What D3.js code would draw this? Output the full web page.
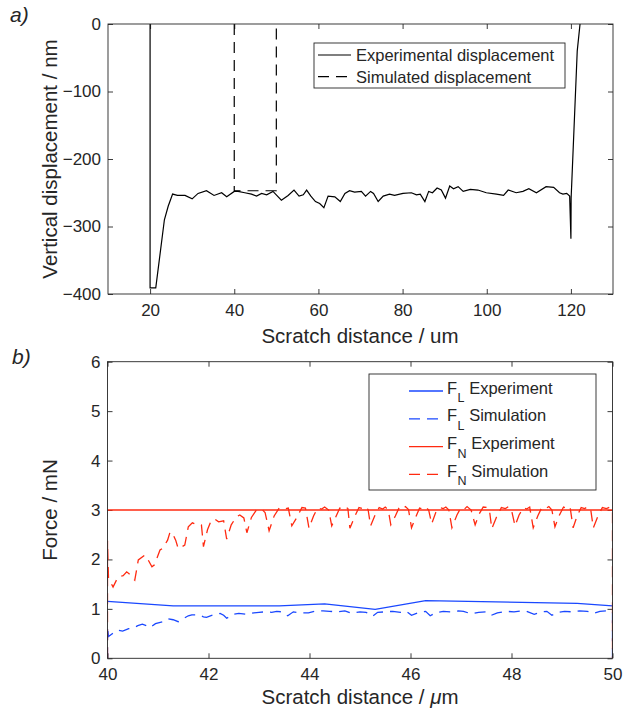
<!DOCTYPE html>
<html><head><meta charset="utf-8">
<script src="https://cdn.jsdelivr.net/npm/d3@7"></script>
<style>
body{margin:0;background:#fff}
text{font-family:"Liberation Sans",Arial,Helvetica,sans-serif;fill:#262626}
</style>
</head><body>
<svg id="c" width="639" height="715"></svg>
<script>
// ---------- DATA ----------
const xTicksA = [20, 40, 60, 80, 100, 120];
const yTicksA = [0, -100, -200, -300, -400];
const xTicksB = [40, 42, 44, 46, 48, 50];
const yTicksB = [0, 1, 2, 3, 4, 5, 6];

const legendA = ["Experimental displacement", "Simulated displacement"];
const legendB = [["F","L"," Experiment"],["F","L"," Simulation"],["F","N"," Experiment"],["F","N"," Simulation"]];

const expDisp = [[20,0],[20,-140],[20,-310],[20,-391],[21.35,-391],[23.4,-290],[24.3,-270],[25.35,-252],[26.5,-254],[28.3,-254],[30,-259],[31.4,-251],[33.4,-247],[35.2,-254],[37,-250],[38.2,-256],[40,-248],[40.9,-248],[42.5,-250],[44.1,-252],[45.3,-255],[46.5,-251],[47.7,-253],[49.2,-248],[51.2,-261],[52.8,-254],[54.2,-246],[55.4,-255],[56.4,-253],[57.2,-246],[58.2,-255],[59.3,-263],[60.3,-266],[61.3,-272],[62.3,-255],[63.9,-256],[65.2,-263],[66.3,-251],[67.4,-247],[68.6,-249],[70.2,-248],[71.2,-255],[72.4,-248],[73.1,-251],[74.2,-263],[75.4,-255],[76.9,-252],[78.1,-254],[80.1,-251],[82.1,-250],[83.3,-253],[84.2,-252],[85.3,-263],[86.2,-248],[87.1,-250],[88.2,-243],[89.2,-246],[90.2,-258],[91.2,-240],[92.1,-244],[93.2,-241],[94.4,-248],[96.1,-245],[97.9,-246],[99.9,-250],[102.3,-252],[104,-254],[105.1,-246],[107,-250],[108.6,-248],[110,-244],[111.8,-250],[114.1,-241],[115.9,-242],[117.3,-250],[118.1,-252],[119,-251],[119.7,-255],[120,-318],[120.05,-258],[121.5,-40],[122.5,20]];

const simDisp = [[40,0],[40,-247],[50,-247],[50,0]];

const flExp = [[40,1.15],[41.3,1.06],[43.4,1.06],[44.3,1.1],[45.3,0.99],[46.3,1.165],[49.3,1.11],[50,1.06]];

const flSim = [[40,0],[40,0.64],[40.02,0.44],[40.1,0.5],[40.21,0.57],[40.3,0.55],[40.42,0.6],[40.51,0.61],[40.6,0.66],[40.69,0.69],[40.77,0.66],[40.84,0.62],[40.95,0.7],[41.1,0.74],[41.2,0.8],[41.3,0.78],[41.4,0.74],[41.5,0.8],[41.6,0.86],[41.67,0.88],[41.8,0.88],[41.9,0.84],[41.96,0.83],[42.1,0.88],[42.23,0.91],[42.3,0.87],[42.36,0.81],[42.49,0.89],[42.6,0.91],[42.76,0.89],[42.9,0.92],[43.0,0.93],[43.12,0.94],[43.25,0.93],[43.35,0.95],[43.45,0.94],[43.57,0.86],[43.68,0.94],[43.8,0.92],[43.98,0.92],[44.1,0.95],[44.27,0.96],[44.4,0.95],[44.54,0.94],[44.7,0.96],[44.84,0.91],[45.0,0.94],[45.12,0.93],[45.25,0.85],[45.35,0.93],[45.5,0.94],[45.65,0.95],[45.8,0.93],[45.92,0.95],[46.02,0.87],[46.15,0.92],[46.3,0.95],[46.39,0.86],[46.5,0.92],[46.65,0.95],[46.8,0.94],[46.95,0.96],[47.05,0.95],[47.2,0.9],[47.35,0.93],[47.5,0.94],[47.6,0.87],[47.72,0.92],[47.9,0.95],[48.05,0.94],[48.2,0.96],[48.3,0.95],[48.45,0.89],[48.6,0.94],[48.7,0.95],[48.8,0.87],[48.92,0.93],[49.05,0.95],[49.2,0.94],[49.35,0.96],[49.5,0.95],[49.62,0.91],[49.75,0.95],[49.9,0.96],[49.97,0.95],[50,0.94],[50,0]];

const fnExp = [[40,3],[50,3]];

const fnSim = [[40,0],[40,2.38],[40.02,1.62],[40.11,1.44],[40.21,1.65],[40.31,1.67],[40.38,1.75],[40.44,1.70],[40.5,1.62],[40.54,1.58],[40.61,1.99],[40.74,2.09],[40.8,2.0],[40.88,1.85],[40.93,1.89],[41.04,2.19],[41.1,2.23],[41.19,2.39],[41.24,2.56],[41.3,2.5],[41.35,2.39],[41.4,2.22],[41.48,2.26],[41.53,2.29],[41.6,2.66],[41.68,2.74],[41.75,2.71],[41.86,2.7],[41.9,2.26],[41.98,2.6],[42.05,2.78],[42.12,2.82],[42.2,2.76],[42.3,2.78],[42.36,2.41],[42.45,2.7],[42.55,2.86],[42.62,2.9],[42.7,2.84],[42.76,2.54],[42.85,2.85],[42.95,3.0],[43.05,3.02],[43.12,2.95],[43.2,2.58],[43.3,2.88],[43.4,3.04],[43.5,3.02],[43.58,3.04],[43.65,2.68],[43.75,2.85],[43.85,3.05],[43.92,3.04],[43.99,2.63],[44.08,2.88],[44.16,3.04],[44.24,3.02],[44.3,3.06],[44.38,3.0],[44.44,2.68],[44.52,2.86],[44.6,3.04],[44.66,3.02],[44.72,3.06],[44.76,3.03],[44.8,2.63],[44.9,2.88],[44.98,3.05],[45.05,3.03],[45.1,3.07],[45.16,3.01],[45.21,2.68],[45.3,2.9],[45.38,3.05],[45.45,3.02],[45.5,3.06],[45.56,3.0],[45.61,2.7],[45.7,2.88],[45.78,3.06],[45.85,3.03],[45.9,3.07],[45.96,3.01],[46.02,2.64],[46.1,2.85],[46.18,3.04],[46.25,3.02],[46.3,3.06],[46.36,3.0],[46.42,2.72],[46.5,2.95],[46.58,3.05],[46.65,3.03],[46.7,3.06],[46.76,3.0],[46.82,2.64],[46.92,2.9],[47.0,3.05],[47.07,3.02],[47.12,3.07],[47.2,3.0],[47.28,2.7],[47.36,2.92],[47.44,3.06],[47.52,3.05],[47.56,3.02],[47.61,2.62],[47.7,2.85],[47.8,3.05],[47.88,3.03],[47.94,3.07],[48.0,3.0],[48.07,2.68],[48.15,2.9],[48.24,3.05],[48.3,3.02],[48.36,3.06],[48.43,2.64],[48.52,2.88],[48.6,3.05],[48.68,3.03],[48.74,3.07],[48.8,3.0],[48.86,2.66],[48.95,2.9],[49.03,3.06],[49.1,3.03],[49.16,3.06],[49.22,2.64],[49.3,2.88],[49.38,3.05],[49.45,3.03],[49.52,3.07],[49.57,3.0],[49.62,2.64],[49.72,2.9],[49.8,3.05],[49.88,3.03],[49.95,3.06],[50,3.0],[50,0]];

// ---------- STYLE ----------
const AX = "#262626";
const BLUE = "#1a48ff";
const RED = "#ff2a10";
const DASH = "11,7";
const TICKFS = 17, LABFS = 20.5, LEGFS = 16.5;

const svg = d3.select("#c");

function panel(xDom, yDom, rect, xTicks, yTicks, id) {
  const x = d3.scaleLinear().domain(xDom).range([rect.l, rect.r]);
  const y = d3.scaleLinear().domain(yDom).range([rect.b, rect.t]);
  const g = svg.append("g");
  g.append("clipPath").attr("id", id).append("rect")
    .attr("x", rect.l).attr("y", rect.t).attr("width", rect.r - rect.l).attr("height", rect.b - rect.t);
  const ax = (sel, fs) => {
    sel.select(".domain").remove();
    sel.selectAll(".tick line").attr("stroke", AX).attr("stroke-width", 0.9);
    sel.selectAll("text").style("font-size", fs + "px").attr("fill", AX)
      .style("font-family", '"Liberation Sans",Arial,sans-serif');
  };
  g.append("g").attr("transform", `translate(0,${rect.b})`)
    .call(d3.axisBottom(x).tickValues(xTicks).tickSize(-5).tickPadding(10).tickFormat(d3.format("d")))
    .call(s => ax(s, TICKFS));
  g.append("g").attr("transform", `translate(0,${rect.t})`)
    .call(d3.axisTop(x).tickValues(xTicks).tickSize(-5).tickFormat(""))
    .call(s => ax(s, TICKFS));
  g.append("g").attr("transform", `translate(${rect.l},0)`)
    .call(d3.axisLeft(y).tickValues(yTicks).tickSize(-5).tickPadding(7).tickFormat(d3.format("d")))
    .call(s => ax(s, TICKFS));
  g.append("g").attr("transform", `translate(${rect.r},0)`)
    .call(d3.axisRight(y).tickValues(yTicks).tickSize(-5).tickFormat(""))
    .call(s => ax(s, TICKFS));
  const plot = g.append("g").attr("clip-path", `url(#${id})`);
  const frame = () => g.append("rect").attr("x", rect.l).attr("y", rect.t)
    .attr("width", rect.r - rect.l).attr("height", rect.b - rect.t)
    .attr("fill", "none").attr("stroke", AX).attr("stroke-width", 0.9);
  return {x, y, g, plot, frame};
}

function drawLine(p, data, color, dashed, w) {
  const line = d3.line().x(d => p.x(d[0])).y(d => p.y(d[1]));
  p.plot.append("path").datum(data).attr("d", line)
    .attr("fill", "none").attr("stroke", color).attr("stroke-width", w)
    .attr("stroke-linejoin", "miter")
    .attr("stroke-dasharray", dashed ? DASH : null);
}

// ---------- PANEL A ----------
const A = panel([10, 130], [-400, 0], {l: 108, r: 613, t: 24, b: 294}, xTicksA, yTicksA, "clipA");
drawLine(A, expDisp, "#000", false, 1.2);
drawLine(A, simDisp, "#000", true, 1.2);
A.frame();

const lgA = A.g.append("g");
lgA.append("rect").attr("x", 314).attr("y", 43).attr("width", 251).attr("height", 45)
  .attr("fill", "#fff").attr("stroke", AX).attr("stroke-width", 0.9);
legendA.forEach((t, i) => {
  const yy = 55 + i * 21.7;
  lgA.append("line").attr("x1", 318).attr("x2", 351).attr("y1", yy).attr("y2", yy)
    .attr("stroke", "#000").attr("stroke-width", 1.2).attr("stroke-dasharray", i ? DASH : null);
  lgA.append("text").attr("x", 356).attr("y", yy + 6).style("font-size", LEGFS + "px").attr("fill", "#000").text(t);
});

svg.append("text").attr("transform", "translate(57,159) rotate(-90)").attr("text-anchor", "middle")
  .style("font-size", LABFS + "px").text("Vertical displacement / nm");
svg.append("text").attr("x", 360).attr("y", 343).attr("text-anchor", "middle")
  .style("font-size", LABFS + "px").text("Scratch distance / um");
svg.append("text").attr("x", 10).attr("y", 22).style("font-size", "21px").style("font-style", "italic")
  .attr("fill", "#000").text("a)");

// ---------- PANEL B ----------
const B = panel([40, 50], [0, 6], {l: 107.5, r: 612.5, t: 361.7, b: 658.3}, xTicksB, yTicksB, "clipB");
drawLine(B, flExp, BLUE, false, 1.3);
drawLine(B, flSim, BLUE, true, 1.3);
drawLine(B, fnExp, RED, false, 1.3);
drawLine(B, fnSim, RED, true, 1.3);
B.frame();

const lgB = B.g.append("g");
lgB.append("rect").attr("x", 369).attr("y", 374).attr("width", 227).attr("height", 116)
  .attr("fill", "#fff").attr("stroke", AX).attr("stroke-width", 0.9);
const legColors = [BLUE, BLUE, RED, RED];
legendB.forEach((parts, i) => {
  const yy = 391 + i * 27.8;
  lgB.append("line").attr("x1", 409).attr("x2", 443).attr("y1", yy).attr("y2", yy)
    .attr("stroke", legColors[i]).attr("stroke-width", 1.3).attr("stroke-dasharray", i % 2 ? DASH : null);
  const t = lgB.append("text").attr("x", 447).attr("y", yy + 2.5).style("font-size", LEGFS + "px").attr("fill", "#000");
  t.append("tspan").text(parts[0]);
  t.append("tspan").attr("dy", 8.5).attr("dx", 0.5).style("font-size", "12.5px").text(parts[1]);
  t.append("tspan").attr("dy", -8.5).text(parts[2]);
});

svg.append("text").attr("transform", "translate(57,510) rotate(-90)").attr("text-anchor", "middle")
  .style("font-size", LABFS + "px").text("Force / mN");
const xl = svg.append("text").attr("x", 360).attr("y", 704).attr("text-anchor", "middle")
  .style("font-size", LABFS + "px");
xl.append("tspan").text("Scratch distance /  ");
xl.append("tspan").style("font-style", "italic").text("μ");
xl.append("tspan").text("m");
svg.append("text").attr("x", 12).attr("y", 364).style("font-size", "21px").style("font-style", "italic")
  .attr("fill", "#000").text("b)");
</script>
</body></html>
